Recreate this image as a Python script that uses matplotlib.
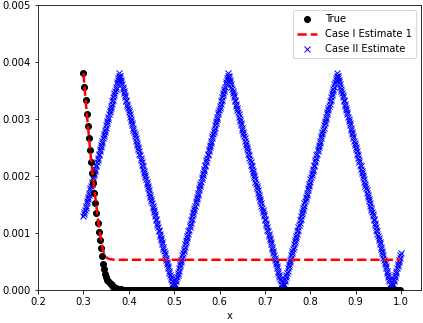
import numpy as np
import matplotlib
matplotlib.use("Agg")
import matplotlib.pyplot as plt

# sample grids
x_start = 0.3
true_step = 0.0024      # spacing of the True / Case I samples
case2_step = 0.0012     # spacing of the Case II samples

# values in units of 1e-3
true_vals = [3.80, 3.56, 3.33, 3.09, 2.87, 2.67, 2.46, 2.24, 2.05, 1.87,
             1.70, 1.52, 1.35, 1.18, 1.01, 0.88, 0.73, 0.59, 0.46, 0.36,
             0.28, 0.23, 0.18, 0.15, 0.12, 0.10, 0.08, 0.06, 0.05, 0.04,
             0.03, 0.025, 0.02, 0.015, 0.012, 0.01, 0.008, 0.006, 0.005, 0.004,
             0.003, 0.002, 0.002, 0.001, 0.001, 0.001] + [0.0] * 246

case1_vals = [3.80, 3.57, 3.35, 3.12, 2.91, 2.71, 2.51, 2.30, 2.12, 1.94,
              1.78, 1.61, 1.45, 1.29, 1.14, 1.03, 0.90, 0.79, 0.70, 0.64,
              0.60, 0.58, 0.56, 0.55, 0.54, 0.54, 0.536, 0.533, 0.532, 0.531] + [0.53] * 262

case2_vals = [
    # rising to first peak
    1.29, 1.33, 1.37, 1.41, 1.44, 1.48, 1.52,
    1.56, 1.60, 1.63, 1.67, 1.71, 1.75, 1.79, 1.82, 1.86, 1.90,
    1.94, 1.98, 2.01, 2.05, 2.09, 2.13, 2.17, 2.20, 2.24, 2.28,
    2.32, 2.36, 2.39, 2.43, 2.47, 2.51, 2.55, 2.58, 2.62, 2.66,
    2.70, 2.74, 2.77, 2.81, 2.85, 2.89, 2.93, 2.96, 3.00, 3.04,
    3.08, 3.12, 3.15, 3.19, 3.23, 3.27, 3.31, 3.34, 3.38, 3.42,
    3.46, 3.50, 3.53, 3.57, 3.61, 3.65, 3.69, 3.72, 3.76, 3.80,
    # falling
    3.76, 3.72, 3.69, 3.65, 3.61, 3.57, 3.53, 3.50, 3.46, 3.42,
    3.38, 3.34, 3.31, 3.27, 3.23, 3.19, 3.15, 3.12, 3.08, 3.04,
    3.00, 2.96, 2.93, 2.89, 2.85, 2.81, 2.77, 2.74, 2.70, 2.66,
    2.62, 2.58, 2.55, 2.51, 2.47, 2.43, 2.39, 2.36, 2.32, 2.28,
    2.24, 2.20, 2.17, 2.13, 2.09, 2.05, 2.01, 1.98, 1.94, 1.90,
    1.86, 1.82, 1.79, 1.75, 1.71, 1.67, 1.63, 1.60, 1.56, 1.52,
    1.48, 1.44, 1.41, 1.37, 1.33, 1.29, 1.25, 1.22, 1.18, 1.14,
    1.10, 1.06, 1.03, 0.99, 0.95, 0.91, 0.87, 0.84, 0.80, 0.76,
    0.72, 0.68, 0.65, 0.61, 0.57, 0.53, 0.49, 0.46, 0.42, 0.38,
    0.34, 0.30, 0.27, 0.23, 0.19, 0.15, 0.11, 0.08, 0.04, 0.00,
    # rising
    0.04, 0.08, 0.11, 0.15, 0.19, 0.23, 0.27, 0.30, 0.34, 0.38,
    0.42, 0.46, 0.49, 0.53, 0.57, 0.61, 0.65, 0.68, 0.72, 0.76,
    0.80, 0.84, 0.87, 0.91, 0.95, 0.99, 1.03, 1.06, 1.10, 1.14,
    1.18, 1.22, 1.25, 1.29, 1.33, 1.37, 1.41, 1.44, 1.48, 1.52,
    1.56, 1.60, 1.63, 1.67, 1.71, 1.75, 1.79, 1.82, 1.86, 1.90,
    1.94, 1.98, 2.01, 2.05, 2.09, 2.13, 2.17, 2.20, 2.24, 2.28,
    2.32, 2.36, 2.39, 2.43, 2.47, 2.51, 2.55, 2.58, 2.62, 2.66,
    2.70, 2.74, 2.77, 2.81, 2.85, 2.89, 2.93, 2.96, 3.00, 3.04,
    3.08, 3.12, 3.15, 3.19, 3.23, 3.27, 3.31, 3.34, 3.38, 3.42,
    3.46, 3.50, 3.53, 3.57, 3.61, 3.65, 3.69, 3.72, 3.76, 3.80,
    # falling
    3.76, 3.72, 3.69, 3.65, 3.61, 3.57, 3.53, 3.50, 3.46, 3.42,
    3.38, 3.34, 3.31, 3.27, 3.23, 3.19, 3.15, 3.12, 3.08, 3.04,
    3.00, 2.96, 2.93, 2.89, 2.85, 2.81, 2.77, 2.74, 2.70, 2.66,
    2.62, 2.58, 2.55, 2.51, 2.47, 2.43, 2.39, 2.36, 2.32, 2.28,
    2.24, 2.20, 2.17, 2.13, 2.09, 2.05, 2.01, 1.98, 1.94, 1.90,
    1.86, 1.82, 1.79, 1.75, 1.71, 1.67, 1.63, 1.60, 1.56, 1.52,
    1.48, 1.44, 1.41, 1.37, 1.33, 1.29, 1.25, 1.22, 1.18, 1.14,
    1.10, 1.06, 1.03, 0.99, 0.95, 0.91, 0.87, 0.84, 0.80, 0.76,
    0.72, 0.68, 0.65, 0.61, 0.57, 0.53, 0.49, 0.46, 0.42, 0.38,
    0.34, 0.30, 0.27, 0.23, 0.19, 0.15, 0.11, 0.08, 0.04, 0.00,
    # rising
    0.04, 0.08, 0.11, 0.15, 0.19, 0.23, 0.27, 0.30, 0.34, 0.38,
    0.42, 0.46, 0.49, 0.53, 0.57, 0.61, 0.65, 0.68, 0.72, 0.76,
    0.80, 0.84, 0.87, 0.91, 0.95, 0.99, 1.03, 1.06, 1.10, 1.14,
    1.18, 1.22, 1.25, 1.29, 1.33, 1.37, 1.41, 1.44, 1.48, 1.52,
    1.56, 1.60, 1.63, 1.67, 1.71, 1.75, 1.79, 1.82, 1.86, 1.90,
    1.94, 1.98, 2.01, 2.05, 2.09, 2.13, 2.17, 2.20, 2.24, 2.28,
    2.32, 2.36, 2.39, 2.43, 2.47, 2.51, 2.55, 2.58, 2.62, 2.66,
    2.70, 2.74, 2.77, 2.81, 2.85, 2.89, 2.93, 2.96, 3.00, 3.04,
    3.08, 3.12, 3.15, 3.19, 3.23, 3.27, 3.31, 3.34, 3.38, 3.42,
    3.46, 3.50, 3.53, 3.57, 3.61, 3.65, 3.69, 3.72, 3.76, 3.80,
    # falling
    3.76, 3.72, 3.69, 3.65, 3.61, 3.57, 3.53, 3.50, 3.46, 3.42,
    3.38, 3.34, 3.31, 3.27, 3.23, 3.19, 3.15, 3.12, 3.08, 3.04,
    3.00, 2.96, 2.93, 2.89, 2.85, 2.81, 2.77, 2.74, 2.70, 2.66,
    2.62, 2.58, 2.55, 2.51, 2.47, 2.43, 2.39, 2.36, 2.32, 2.28,
    2.24, 2.20, 2.17, 2.13, 2.09, 2.05, 2.01, 1.98, 1.94, 1.90,
    1.86, 1.82, 1.79, 1.75, 1.71, 1.67, 1.63, 1.60, 1.56, 1.52,
    1.48, 1.44, 1.41, 1.37, 1.33, 1.29, 1.25, 1.22, 1.18, 1.14,
    1.10, 1.06, 1.03, 0.99, 0.95, 0.91, 0.87, 0.84, 0.80, 0.76,
    0.72, 0.68, 0.65, 0.61, 0.57, 0.53, 0.49, 0.46, 0.42, 0.38,
    0.34, 0.30, 0.27, 0.23, 0.19, 0.15, 0.11, 0.08, 0.04, 0.00,
    # final rise
    0.04, 0.08, 0.11, 0.15, 0.19, 0.23, 0.27, 0.30, 0.34, 0.38,
    0.42, 0.46, 0.49, 0.53, 0.57, 0.61, 0.65,
]

labels = ["True", "Case I Estimate 1", "Case II Estimate"]
x_ticks = [0.2, 0.3, 0.4, 0.5, 0.6, 0.7, 0.8, 0.9, 1.0]
y_ticks = [0.000, 0.001, 0.002, 0.003, 0.004, 0.005]

unit = 1e-3
x1 = x_start + true_step * np.arange(len(true_vals))
x2 = x_start + case2_step * np.arange(len(case2_vals))
y_true = np.array(true_vals) * unit
y_c1 = np.array(case1_vals) * unit
y_c2 = np.array(case2_vals) * unit

plt.rcParams["font.size"] = 10
fig = plt.figure(figsize=(423 / 72, 323 / 72), dpi=72)
ax = fig.add_axes([38 / 423, 1 - 290 / 323, 383 / 423, 285 / 323])

ax.plot(x1, y_true, "o", color="black", markersize=6, label=labels[0], zorder=2.1)
ax.plot(x1, y_c1, "--", color="red", linewidth=2.5, label=labels[1], zorder=2.2)
ax.plot(x2, y_c2, "x", color="blue", markersize=6, label=labels[2], zorder=2.0)

ax.set_xlim(0.2, 1.044)
ax.set_ylim(0, 0.005)
ax.set_xticks(x_ticks)
ax.set_yticks(y_ticks)
ax.set_xlabel("x")
ax.legend(loc="upper right")

fig.savefig("out.png", dpi=72)
